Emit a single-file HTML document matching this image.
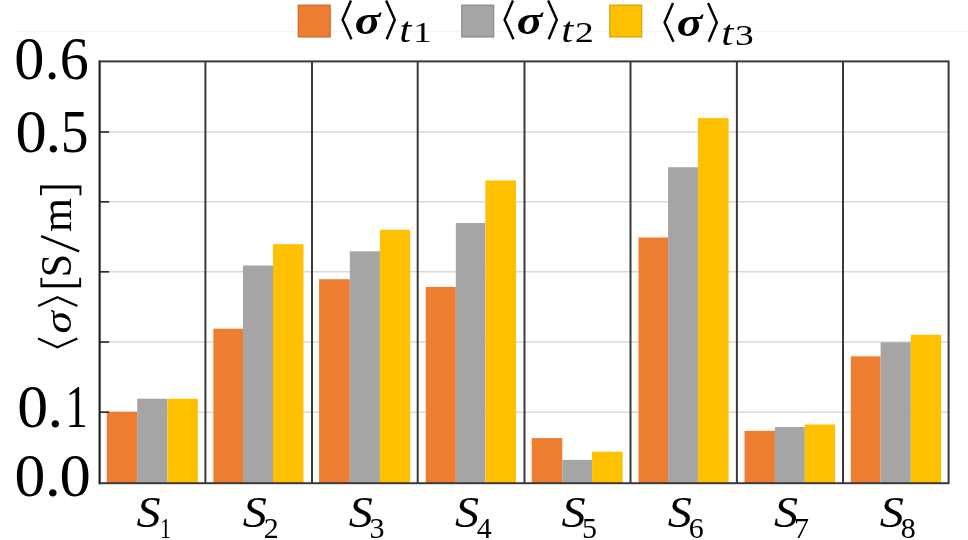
<!DOCTYPE html>
<html><head><meta charset="utf-8"><style>
html,body{margin:0;padding:0;background:#fff;}
svg{display:block;will-change:transform;}
</style></head><body>
<svg width="968" height="540" viewBox="0 0 968 540">
<line x1="16" y1="31.5" x2="968" y2="31.5" stroke="#f3f3f3" stroke-width="1"/>
<line x1="99.6" y1="412.2" x2="948.6" y2="412.2" stroke="#d9d9d9" stroke-width="1.5"/>
<line x1="99.6" y1="342.0" x2="948.6" y2="342.0" stroke="#d9d9d9" stroke-width="1.5"/>
<line x1="99.6" y1="271.8" x2="948.6" y2="271.8" stroke="#d9d9d9" stroke-width="1.5"/>
<line x1="99.6" y1="201.85" x2="948.6" y2="201.85" stroke="#d9d9d9" stroke-width="1.5"/>
<line x1="99.6" y1="132.0" x2="948.6" y2="132.0" stroke="#d9d9d9" stroke-width="1.5"/>
<rect x="106.80" y="411.80" width="30.40" height="71.40" fill="#ED7D31"/>
<rect x="137.20" y="398.75" width="30.20" height="84.45" fill="#A5A5A5"/>
<rect x="167.40" y="398.75" width="30.40" height="84.45" fill="#FFC000"/>
<rect x="213.40" y="328.70" width="29.60" height="154.50" fill="#ED7D31"/>
<rect x="243.00" y="265.50" width="30.00" height="217.70" fill="#A5A5A5"/>
<rect x="273.00" y="244.20" width="30.50" height="239.00" fill="#FFC000"/>
<rect x="319.10" y="279.20" width="30.70" height="204.00" fill="#ED7D31"/>
<rect x="349.80" y="251.30" width="30.10" height="231.90" fill="#A5A5A5"/>
<rect x="379.90" y="229.80" width="30.30" height="253.40" fill="#FFC000"/>
<rect x="425.70" y="286.90" width="30.10" height="196.30" fill="#ED7D31"/>
<rect x="455.80" y="223.00" width="29.60" height="260.20" fill="#A5A5A5"/>
<rect x="485.40" y="180.40" width="30.60" height="302.80" fill="#FFC000"/>
<rect x="531.70" y="438.10" width="30.60" height="45.10" fill="#ED7D31"/>
<rect x="562.30" y="459.90" width="29.80" height="23.30" fill="#A5A5A5"/>
<rect x="592.10" y="451.70" width="30.50" height="31.50" fill="#FFC000"/>
<rect x="638.50" y="237.50" width="29.60" height="245.70" fill="#ED7D31"/>
<rect x="668.10" y="167.20" width="29.80" height="316.00" fill="#A5A5A5"/>
<rect x="697.90" y="118.10" width="30.70" height="365.10" fill="#FFC000"/>
<rect x="744.50" y="430.80" width="30.40" height="52.40" fill="#ED7D31"/>
<rect x="774.90" y="427.00" width="29.90" height="56.20" fill="#A5A5A5"/>
<rect x="804.80" y="424.50" width="30.30" height="58.70" fill="#FFC000"/>
<rect x="850.80" y="356.30" width="29.80" height="126.90" fill="#ED7D31"/>
<rect x="880.60" y="342.30" width="30.20" height="140.90" fill="#A5A5A5"/>
<rect x="910.80" y="334.80" width="30.30" height="148.40" fill="#FFC000"/>
<line x1="205.40" y1="61.4" x2="205.40" y2="483.2" stroke="#3a3a3a" stroke-width="2"/>
<line x1="312.00" y1="61.4" x2="312.00" y2="483.2" stroke="#3a3a3a" stroke-width="2"/>
<line x1="417.70" y1="61.4" x2="417.70" y2="483.2" stroke="#3a3a3a" stroke-width="2"/>
<line x1="524.50" y1="61.4" x2="524.50" y2="483.2" stroke="#3a3a3a" stroke-width="2"/>
<line x1="630.50" y1="61.4" x2="630.50" y2="483.2" stroke="#3a3a3a" stroke-width="2"/>
<line x1="736.90" y1="61.4" x2="736.90" y2="483.2" stroke="#3a3a3a" stroke-width="2"/>
<line x1="843.00" y1="61.4" x2="843.00" y2="483.2" stroke="#3a3a3a" stroke-width="2"/>
<line x1="99.6" y1="412.2" x2="109.1" y2="412.2" stroke="#2e2e2e" stroke-width="1.7"/>
<line x1="99.6" y1="342.0" x2="109.1" y2="342.0" stroke="#2e2e2e" stroke-width="1.7"/>
<line x1="99.6" y1="271.8" x2="109.1" y2="271.8" stroke="#2e2e2e" stroke-width="1.7"/>
<line x1="99.6" y1="201.85" x2="109.1" y2="201.85" stroke="#2e2e2e" stroke-width="1.7"/>
<line x1="99.6" y1="132.0" x2="109.1" y2="132.0" stroke="#2e2e2e" stroke-width="1.7"/>
<rect x="99.6" y="61.4" width="849.00" height="421.80" fill="none" stroke="#3a3a3a" stroke-width="2"/>
<line x1="99.6" y1="60.4" x2="99.6" y2="484.2" stroke="#202020" stroke-width="1.5"/>
<text transform="translate(14.29,79.3) scale(0.988,1)" font-family="Liberation Serif, serif" font-size="61">0</text>
<text transform="translate(44.66,79.3) scale(0.969,1)" font-family="Liberation Serif, serif" font-size="61">.</text>
<text transform="translate(59.87,79.3) scale(0.953,1)" font-family="Liberation Serif, serif" font-size="61">6</text>
<text transform="translate(15.40,151.8) scale(1.023,1)" font-family="Liberation Serif, serif" font-size="61">0</text>
<text transform="translate(45.51,151.8) scale(1.028,1)" font-family="Liberation Serif, serif" font-size="61">.</text>
<text transform="translate(60.67,151.8) scale(0.910,1)" font-family="Liberation Serif, serif" font-size="61">5</text>
<text transform="translate(17.23,427.3) scale(1.011,1)" font-family="Liberation Serif, serif" font-size="61">0</text>
<text transform="translate(47.41,427.3) scale(1.028,1)" font-family="Liberation Serif, serif" font-size="61">.</text>
<text transform="translate(65.59,427.3) scale(0.731,1)" font-family="Liberation Serif, serif" font-size="61">1</text>
<text transform="translate(14.43,496.1) scale(1.011,1)" font-family="Liberation Serif, serif" font-size="61">0</text>
<text transform="translate(44.68,496.1) scale(1.058,1)" font-family="Liberation Serif, serif" font-size="61">.</text>
<text transform="translate(59.60,496.1) scale(1.027,1)" font-family="Liberation Serif, serif" font-size="61">0</text>
<text transform="translate(136.52,527.2) scale(1.07,1)" font-family="Liberation Serif, serif" font-size="45" font-style="italic">S</text><text transform="translate(160.03,538.0) scale(0.73,1)" font-family="Liberation Serif, serif" font-size="30">1</text>
<text transform="translate(242.72,527.2) scale(1.07,1)" font-family="Liberation Serif, serif" font-size="45" font-style="italic">S</text><text transform="translate(263.70,538.0) scale(1.0,1)" font-family="Liberation Serif, serif" font-size="30">2</text>
<text transform="translate(348.87,527.2) scale(1.07,1)" font-family="Liberation Serif, serif" font-size="45" font-style="italic">S</text><text transform="translate(369.55,538.0) scale(1.0,1)" font-family="Liberation Serif, serif" font-size="30">3</text>
<text transform="translate(455.12,527.2) scale(1.07,1)" font-family="Liberation Serif, serif" font-size="45" font-style="italic">S</text><text transform="translate(476.70,538.0) scale(1.0,1)" font-family="Liberation Serif, serif" font-size="30">4</text>
<text transform="translate(561.52,527.2) scale(1.07,1)" font-family="Liberation Serif, serif" font-size="45" font-style="italic">S</text><text transform="translate(581.90,538.0) scale(1.0,1)" font-family="Liberation Serif, serif" font-size="30">5</text>
<text transform="translate(667.72,527.2) scale(1.07,1)" font-family="Liberation Serif, serif" font-size="45" font-style="italic">S</text><text transform="translate(688.70,538.0) scale(1.0,1)" font-family="Liberation Serif, serif" font-size="30">6</text>
<text transform="translate(773.97,527.2) scale(1.07,1)" font-family="Liberation Serif, serif" font-size="45" font-style="italic">S</text><text transform="translate(794.05,538.0) scale(1.0,1)" font-family="Liberation Serif, serif" font-size="30">7</text>
<text transform="translate(879.82,527.2) scale(1.07,1)" font-family="Liberation Serif, serif" font-size="45" font-style="italic">S</text><text transform="translate(900.80,538.0) scale(1.0,1)" font-family="Liberation Serif, serif" font-size="30">8</text>
<path d="M40,185.5 H81.4 V195.3 H79.5 V188.6 H41.9 V195.3 H40 Z" fill="#000"/><path d="M40.4,287.2 H81.1 V277.8 H79.2 V284.2 H42.3 V277.8 H40.4 Z" fill="#000"/><line x1="41.1" y1="236.1" x2="79.2" y2="251.3" stroke="#000" stroke-width="2.4"/><g transform="translate(71,348) rotate(-90)" font-family="Liberation Serif, serif"><polyline points="9.5,-32.9 0.8,-13.6 9.5,6.4" fill="none" stroke="#000" stroke-width="2.2"/><text transform="translate(14.6,-0.3) scale(1.19,1)" font-size="38" font-style="italic">σ</text><polyline points="42,-32.9 50.7,-13.6 42,6.4" fill="none" stroke="#000" stroke-width="2.2"/><text transform="translate(70.7,-0.2) scale(0.95,1)" font-size="44">S</text><text transform="translate(116.0,0)" font-size="43.6">m</text></g>
<rect x="298.20" y="5.1" width="32.0" height="31.9" fill="#ED7D31" stroke="#C0601C" stroke-width="1"/><rect x="461.75" y="5.1" width="32.0" height="31.9" fill="#A5A5A5" stroke="#7F7F7F" stroke-width="1"/><rect x="609.80" y="5.1" width="32.0" height="31.9" fill="#FFC000" stroke="#C99700" stroke-width="1"/><g transform="translate(0,0)" font-family="Liberation Serif, serif"><polyline points="351,0.5 342.6,19.8 351.5,39.2" fill="none" stroke="#000" stroke-width="2.4"/><text transform="translate(354.8,33.6) scale(1.165,1)" font-size="41" font-weight="bold" font-style="italic">σ</text><polyline points="386.1,0.5 394.8,19.8 386.7,39.2" fill="none" stroke="#000" stroke-width="2.4"/><text transform="translate(399.2,42.4) scale(1.2,1)" font-size="36" font-style="italic">t</text><text transform="translate(412.9,42.4) scale(1.25,1)" font-size="30">1</text></g><g transform="translate(162,0)" font-family="Liberation Serif, serif"><polyline points="351,0.5 342.6,19.8 351.5,39.2" fill="none" stroke="#000" stroke-width="2.4"/><text transform="translate(354.8,33.6) scale(1.165,1)" font-size="41" font-weight="bold" font-style="italic">σ</text><polyline points="386.1,0.5 394.8,19.8 386.7,39.2" fill="none" stroke="#000" stroke-width="2.4"/><text transform="translate(399.2,42.4) scale(1.2,1)" font-size="36" font-style="italic">t</text><text transform="translate(412.9,42.4) scale(1.25,1)" font-size="30">2</text></g><g transform="translate(322,2.6)" font-family="Liberation Serif, serif"><polyline points="351,0.5 342.6,19.8 351.5,39.2" fill="none" stroke="#000" stroke-width="2.4"/><text transform="translate(354.8,33.6) scale(1.165,1)" font-size="41" font-weight="bold" font-style="italic">σ</text><polyline points="386.1,0.5 394.8,19.8 386.7,39.2" fill="none" stroke="#000" stroke-width="2.4"/><text transform="translate(399.2,42.4) scale(1.2,1)" font-size="36" font-style="italic">t</text><text transform="translate(412.9,42.4) scale(1.25,1)" font-size="30">3</text></g>
</svg>
</body></html>
